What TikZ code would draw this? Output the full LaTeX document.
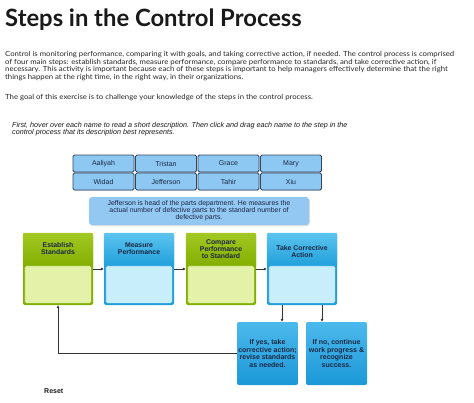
\documentclass[tikz,border=0pt]{standalone}
\usepackage{fontspec}
\setmainfont{Liberation Sans}
\newfontfamily\latofont{Lato}
\newfontfamily\bodyfont{Lato}[FakeStretch=1.1]
\usetikzlibrary{arrows.meta,shadows,positioning}

\definecolor{namefill}{HTML}{8DC8F2}
\definecolor{nameline}{HTML}{33465F}
\definecolor{descfill}{HTML}{93C8F3}
\definecolor{grnA}{HTML}{A3C823}
\definecolor{grnB}{HTML}{82AE00}
\definecolor{grnL}{HTML}{E3F2A8}
\definecolor{grnE}{HTML}{9CC230}
\definecolor{bluA}{HTML}{5CC4EE}
\definecolor{bluB}{HTML}{1F9FDB}
\definecolor{bluL}{HTML}{C8EDFB}
\definecolor{bluE}{HTML}{35A9E0}
\definecolor{resA}{HTML}{4CB9EC}
\definecolor{resB}{HTML}{1C98D8}
\definecolor{inktxt}{HTML}{1A2744}
\definecolor{arrowgray}{HTML}{333333}

\tikzset{
  namebox/.style={draw=nameline, line width=0.8pt, fill=namefill, rounded corners=1.5pt,
    minimum width=61pt, minimum height=17pt, inner sep=0pt, text=inktxt,
    font=\fontsize{7}{7.5}\selectfont,
    drop shadow={shadow xshift=0.6pt, shadow yshift=-0.8pt, opacity=0.3}},
  stepbox/.style={rounded corners=2pt, minimum width=70pt, minimum height=72pt, inner sep=0pt},
  steptext/.style={align=center, text=inktxt, inner sep=0pt,
    font=\fontsize{6.9}{7.3}\selectfont\bfseries},
  resultbox/.style={rounded corners=2pt, top color=resA, bottom color=resB,
    minimum width=61pt, minimum height=63pt, inner sep=0pt, align=center, text=inktxt,
    font=\fontsize{7}{7.4}\selectfont\bfseries},
  flow/.style={-{Latex[length=3pt,width=3pt]}, draw=arrowgray, line width=0.9pt},
}

\begin{document}
\begin{tikzpicture}[x=1pt, y=-1pt]
  \useasboundingbox[fill=white] (0,0) rectangle (474,402);

  % heading and intro text
  \node[anchor=base west, inner sep=0pt, font=\latofont\fontsize{23.8}{25}\selectfont\bfseries, text=black!90]
    (title) at (5,26.7) {Steps in the Control Process};
  \node[anchor=north west, inner sep=0pt, align=left, text=black!85,
    font=\bodyfont\fontsize{7.05}{7.5}\selectfont] (intro) at (5,51.4)
    {Control is monitoring performance, comparing it with goals, and taking corrective action, if needed. The control process is comprised\\
     of four main steps: establish standards, measure performance, compare performance to standards, and take corrective action, if\\
     necessary. This activity is important because each of these steps is important to help managers effectively determine that the right\\
     things happen at the right time, in the right way, in their organizations.};
  \node[anchor=base west, inner sep=0pt, text=black!85, font=\bodyfont\fontsize{7.05}{7.5}\selectfont]
    (goal) at (5,99) {The goal of this exercise is to challenge your knowledge of the steps in the control process.};
  \node[anchor=north west, inner sep=0pt, align=left, text=black!90,
    font=\fontsize{7.2}{7.2}\selectfont\itshape] (hint) at (12,121.8)
    {First, hover over each name to read a short description. Then click and drag each name to the step in the\\
     control process that its description best represents.};

  % names
  \node[namebox] (aaliyah)   at (103.5,163.5) {Aaliyah};
  \node[namebox] (tristan)   at (166,163.5)   {Tristan};
  \node[namebox] (grace)     at (228.5,163.5) {Grace};
  \node[namebox] (mary)      at (291,163.5)   {Mary};
  \node[namebox] (widad)     at (103.5,181.5) {Widad};
  \node[namebox] (jefferson) at (166,181.5)   {Jefferson};
  \node[namebox] (tahir)     at (228.5,181.5) {Tahir};
  \node[namebox] (xiu)       at (291,181.5)   {Xiu};

  % description
  \node[fill=descfill, rounded corners=3pt, minimum width=220pt, minimum height=28pt, inner sep=0pt,
    align=center, text=inktxt, font=\fontsize{6.9}{7}\selectfont,
    drop shadow={shadow xshift=0.8pt, shadow yshift=-1pt, opacity=0.25}] (desc) at (199,211)
    {Jefferson is head of the parts department. He measures the\\
     actual number of defective parts to the standard number of\\
     defective parts.};

  % the four steps
  \node[stepbox, fill=grnB] (est) at (58,269) {};
  \node[stepbox, fill=bluB] (mea) at (139,269) {};
  \node[stepbox, fill=grnB] (cmp) at (221,269) {};
  \node[stepbox, fill=bluB] (tca) at (302,269) {};

  \shade[top color=grnA, bottom color=grnB, rounded corners=2pt] (est.north west) rectangle ([shift={(0,34)}]est.north east);
  \shade[top color=bluA, bottom color=bluB, rounded corners=2pt] (mea.north west) rectangle ([shift={(0,34)}]mea.north east);
  \shade[top color=grnA, bottom color=grnB, rounded corners=2pt] (cmp.north west) rectangle ([shift={(0,34)}]cmp.north east);
  \shade[top color=bluA, bottom color=bluB, rounded corners=2pt] (tca.north west) rectangle ([shift={(0,34)}]tca.north east);

  \filldraw[fill=grnL, draw=grnE, rounded corners=1.5pt] ([shift={(2,33)}]est.north west) rectangle ([shift={(-2,-2)}]est.south east);
  \filldraw[fill=bluL, draw=bluE, rounded corners=1.5pt] ([shift={(2,33)}]mea.north west) rectangle ([shift={(-2,-2)}]mea.south east);
  \filldraw[fill=grnL, draw=grnE, rounded corners=1.5pt] ([shift={(2,33)}]cmp.north west) rectangle ([shift={(-2,-2)}]cmp.south east);
  \filldraw[fill=bluL, draw=bluE, rounded corners=1.5pt] ([shift={(2,33)}]tca.north west) rectangle ([shift={(-2,-2)}]tca.south east);

  \node[steptext] (esttxt) at ([shift={(0,-20.5)}]est.center) {Establish\\Standards};
  \node[steptext] (meatxt) at ([shift={(0,-20)}]mea.center) {Measure\\Performance};
  \node[steptext] (cmptxt) at ([shift={(0,-20)}]cmp.center) {Compare\\Performance\\to Standard};
  \node[steptext] (tcatxt) at ([shift={(0,-17.5)}]tca.center) {Take Corrective\\Action};

  % outcomes
  \node[resultbox] (yes) at (267.5,353.5) {If yes, take\\corrective action;\\revise standards\\as needed.};
  \node[resultbox] (no)  at (336.5,353.5) {If no, continue\\work progress \&\\recognize\\success.};

  % connectors
  \draw[flow] (est) -- (mea);
  \draw[flow] (mea) -- (cmp);
  \draw[flow] (cmp) -- (tca);
  \draw[flow] ([xshift=-20pt]tca.south) -- ([xshift=-20pt]tca.south |- yes.north);
  \draw[flow] ([xshift=20pt]tca.south) -- ([xshift=20pt]tca.south |- no.north);
  \draw[flow] (yes.west) -| (est.south);

  \node[anchor=base west, inner sep=0pt, font=\fontsize{7}{7}\selectfont\bfseries, text=black!90]
    (reset) at (44,393) {Reset};
\end{tikzpicture}
\end{document}
